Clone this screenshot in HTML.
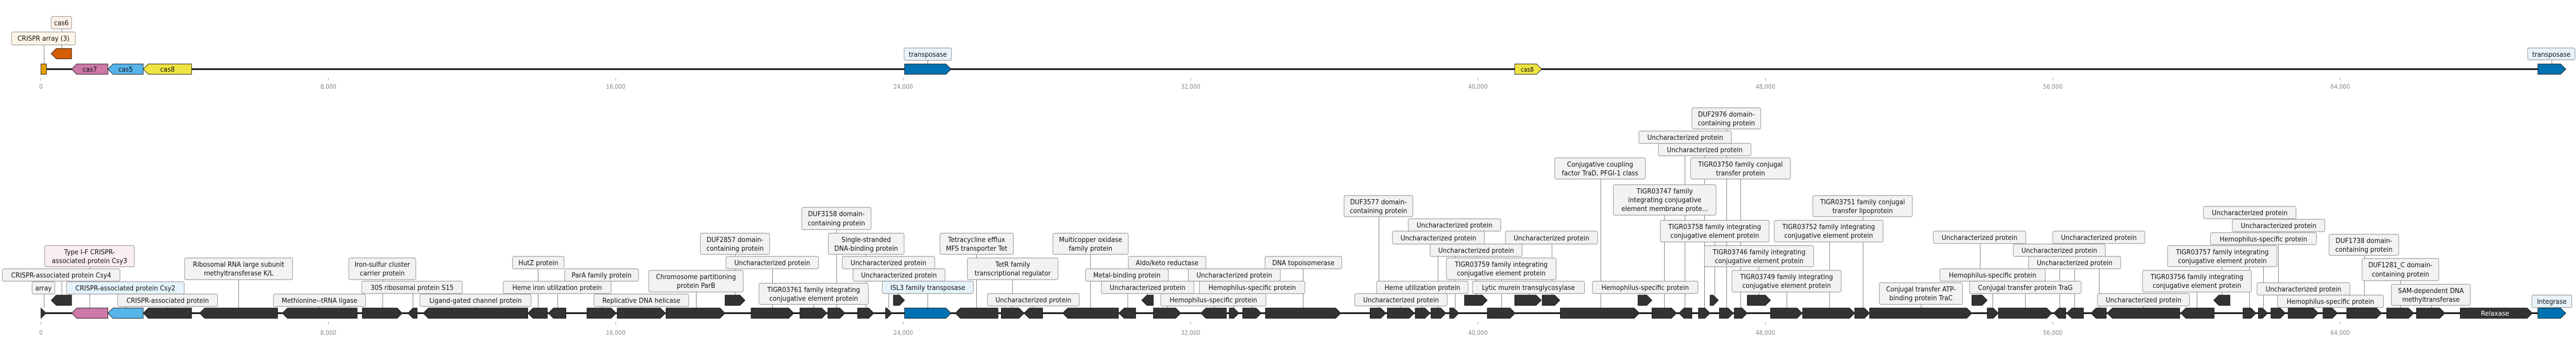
<!DOCTYPE html>
<html><head><meta charset="utf-8">
<meta name="viewport" content="width=5539">
<style>
html,body{margin:0;padding:0;background:#fff;width:100%;height:100%;overflow:hidden;}
svg{display:block;width:100vw;height:100vh;}
text{font-family:"DejaVu Sans","Liberation Sans",sans-serif;}
.bx{fill:#f2f2f2;stroke:#999;stroke-width:1.2;}
.bb{fill:#e6f3fb;stroke:#999;stroke-width:1.2;}
.bp{fill:#f8eef3;stroke:#999;stroke-width:1.2;}
.t{font-size:13.5px;fill:#111;text-anchor:middle;}
.ax{font-size:12px;fill:#888;text-anchor:middle;}
.g{fill:#333;stroke:#111;stroke-width:1;}
.ld{stroke:#444;stroke-width:0.8;}
.tk{stroke:#888;stroke-width:1;}
</style></head><body>
<svg viewBox="0 0 5539 659" preserveAspectRatio="none" xmlns="http://www.w3.org/2000/svg" overflow="hidden">
<rect width="5539" height="659" fill="#fff"/>

<line x1="88" y1="134" x2="5517" y2="134" stroke="#000" stroke-width="3"/>
<g class="tk">
<line x1="88" y1="151" x2="88" y2="156"/><line x1="706" y1="151" x2="706" y2="156"/><line x1="1324" y1="151" x2="1324" y2="156"/><line x1="1942" y1="151" x2="1942" y2="156"/><line x1="2560" y1="151" x2="2560" y2="156"/><line x1="3178" y1="151" x2="3178" y2="156"/><line x1="3796" y1="151" x2="3796" y2="156"/><line x1="4414" y1="151" x2="4414" y2="156"/><line x1="5032" y1="151" x2="5032" y2="156"/>
</g>
<g class="ax">
<text x="88" y="172">0</text><text x="706" y="172">8,000</text><text x="1324" y="172">16,000</text><text x="1942" y="172">24,000</text><text x="2560" y="172">32,000</text><text x="3178" y="172">40,000</text><text x="3796" y="172">48,000</text><text x="4414" y="172">56,000</text><text x="5032" y="172">64,000</text>
</g>
<line class="ld" x1="95" y1="87" x2="95" y2="124"/>
<line class="ld" x1="133" y1="56" x2="133" y2="94"/>
<line class="ld" x1="1995" y1="117" x2="1995" y2="124"/>
<line class="ld" x1="5487" y1="116" x2="5487" y2="124"/>
<rect x="88" y="124" width="12" height="20" fill="#e69f00" stroke="#111"/>
<polygon points="154,94 121,94 110,104 121,114 154,114" fill="#d55e00" stroke="#111"/>
<polygon points="232,124 165,124 154,134 165,144 232,144" fill="#cc79a7" stroke="#111"/>
<polygon points="308,124 243,124 232,134 243,144 308,144" fill="#56b4e9" stroke="#111"/>
<polygon points="412,124 319,124 308,134 319,144 412,144" fill="#f0e442" stroke="#111"/>
<polygon points="1945,124 2034,124 2045,134 2034,144 1945,144" fill="#0072b2" stroke="#111"/>
<polygon points="3257,124 3304,124 3315,134 3304,144 3257,144" fill="#f0e442" stroke="#111"/>
<polygon points="5457,124 5506,124 5517,134 5506,144 5457,144" fill="#0072b2" stroke="#111"/>
<text class="t" x="193" y="139">cas7</text>
<text class="t" x="270" y="139">cas5</text>
<text class="t" x="360" y="139">cas8</text>
<text class="t" x="3284" y="139" style="font-size:12px">cas8</text>
<rect x="25" y="62" width="137" height="25" rx="3" fill="#fdf6e8" stroke="#999" stroke-width="1.2"/>
<text class="t" x="93.5" y="79">CRISPR array (3)</text>
<rect x="110" y="32" width="44" height="24" rx="3" fill="#fdefe6" stroke="#999" stroke-width="1.2"/>
<text class="t" x="132" y="49">cas6</text>
<rect class="bb" x="1944" y="93" width="102" height="24" rx="3"/>
<text class="t" x="1995" y="110">transposase</text>
<rect class="bb" x="5435" y="93" width="102" height="23" rx="3"/>
<text class="t" x="5486" y="110">transposase</text>

<line x1="88" y1="607" x2="5517" y2="607" stroke="#000" stroke-width="3"/>
<g class="tk">
<line x1="88" y1="624" x2="88" y2="629"/><line x1="706" y1="624" x2="706" y2="629"/><line x1="1324" y1="624" x2="1324" y2="629"/><line x1="1942" y1="624" x2="1942" y2="629"/><line x1="2560" y1="624" x2="2560" y2="629"/><line x1="3178" y1="624" x2="3178" y2="629"/><line x1="3796" y1="624" x2="3796" y2="629"/><line x1="4414" y1="624" x2="4414" y2="629"/><line x1="5032" y1="624" x2="5032" y2="629"/>
</g>
<g class="ax">
<text x="88" y="649">0</text><text x="706" y="649">8,000</text><text x="1324" y="649">16,000</text><text x="1942" y="649">24,000</text><text x="2560" y="649">32,000</text><text x="3178" y="649">40,000</text><text x="3796" y="649">48,000</text><text x="4414" y="649">56,000</text><text x="5032" y="649">64,000</text>
</g>

<g class="ld">
<line x1="193" y1="517" x2="193" y2="597"/>
<line x1="133" y1="545" x2="133" y2="572"/>
<line x1="95" y1="570" x2="95" y2="597"/>
<line x1="270" y1="570" x2="270" y2="597"/>
<line x1="361" y1="594" x2="361" y2="597"/>
<line x1="513" y1="542" x2="513" y2="597"/>
<line x1="687" y1="593" x2="687" y2="597"/>
<line x1="823" y1="542" x2="823" y2="597"/>
<line x1="888" y1="569" x2="888" y2="597"/>
<line x1="1022" y1="593" x2="1022" y2="597"/>
<line x1="1157" y1="521" x2="1157" y2="597"/>
<line x1="1199" y1="569" x2="1199" y2="597"/>
<line x1="1295" y1="545" x2="1295" y2="597"/>
<line x1="1380" y1="593" x2="1380" y2="597"/>
<line x1="1497" y1="566" x2="1497" y2="597"/>
<line x1="1581" y1="493" x2="1581" y2="572"/>
<line x1="1661" y1="521" x2="1661" y2="597"/>
<line x1="1750" y1="590" x2="1750" y2="597"/>
<line x1="1799" y1="445" x2="1799" y2="597"/>
<line x1="1862" y1="493" x2="1862" y2="597"/>
<line x1="1911" y1="521" x2="1911" y2="597"/>
<line x1="1933" y1="545" x2="1933" y2="572"/>
<line x1="1995" y1="569" x2="1995" y2="597"/>
<line x1="2100" y1="493" x2="2100" y2="597"/>
<line x1="2177" y1="542" x2="2177" y2="597"/>
<line x1="2222" y1="593" x2="2222" y2="597"/>
<line x1="2345" y1="493" x2="2345" y2="597"/>
<line x1="2467" y1="545" x2="2467" y2="572"/>
<line x1="2425" y1="569" x2="2425" y2="597"/>
<line x1="2511" y1="593" x2="2511" y2="597"/>
<line x1="2611" y1="545" x2="2611" y2="597"/>
<line x1="2653" y1="521" x2="2653" y2="597"/>
<line x1="2692" y1="569" x2="2692" y2="597"/>
<line x1="2802" y1="521" x2="2802" y2="597"/>
<line x1="2965" y1="420" x2="2965" y2="597"/>
<line x1="3129" y1="448" x2="3129" y2="597"/>
<line x1="3175" y1="473" x2="3175" y2="572"/>
<line x1="3092" y1="497" x2="3092" y2="597"/>
<line x1="3012" y1="593" x2="3012" y2="597"/>
<line x1="3058" y1="569" x2="3058" y2="597"/>
<line x1="3229" y1="542" x2="3229" y2="597"/>
<line x1="3337" y1="473" x2="3337" y2="572"/>
<line x1="3288" y1="569" x2="3288" y2="572"/>
<line x1="3442" y1="347" x2="3442" y2="597"/>
<line x1="3537" y1="569" x2="3537" y2="572"/>
<line x1="3579" y1="417" x2="3579" y2="597"/>
<line x1="3713" y1="250" x2="3713" y2="597"/>
<line x1="3623" y1="278" x2="3623" y2="597"/>
<line x1="3665" y1="302" x2="3665" y2="597"/>
<line x1="3743" y1="347" x2="3743" y2="597"/>
<line x1="3687" y1="469" x2="3687" y2="572"/>
<line x1="3782" y1="517" x2="3782" y2="572"/>
<line x1="3842" y1="566" x2="3842" y2="597"/>
<line x1="4006" y1="420" x2="4006" y2="597"/>
<line x1="3934" y1="469" x2="3934" y2="597"/>
<line x1="4258" y1="472" x2="4258" y2="572"/>
<line x1="4514" y1="472" x2="4514" y2="597"/>
<line x1="4429" y1="497" x2="4429" y2="597"/>
<line x1="4461" y1="521" x2="4461" y2="597"/>
<line x1="4285" y1="545" x2="4285" y2="597"/>
<line x1="4131" y1="590" x2="4131" y2="597"/>
<line x1="4355" y1="569" x2="4355" y2="597"/>
<line x1="4609" y1="593" x2="4609" y2="597"/>
<line x1="4724" y1="566" x2="4724" y2="597"/>
<line x1="4778" y1="517" x2="4778" y2="572"/>
<line x1="4837" y1="474" x2="4837" y2="597"/>
<line x1="4867" y1="449" x2="4867" y2="597"/>
<line x1="4899" y1="424" x2="4899" y2="597"/>
<line x1="5084" y1="495" x2="5084" y2="597"/>
<line x1="5162" y1="544" x2="5162" y2="597"/>
<line x1="4953" y1="572" x2="4953" y2="597"/>
<line x1="5012" y1="596" x2="5012" y2="597"/>
<line x1="5228" y1="592" x2="5228" y2="597"/>
<line x1="5487" y1="596" x2="5487" y2="597"/>
</g>

<g class="g">
<polygon points="88,597 88,597 99,607 88,617"/>
<polygon points="154,572 121,572 110,582 121,592 154,592"/>
<polygon points="232,597 165,597 154,607 165,617 232,617" style="fill:#cc79a7"/>
<polygon points="308,597 243,597 232,607 243,617 308,617" style="fill:#56b4e9"/>
<polygon points="412,597 319,597 308,607 319,617 412,617"/>
<polygon points="597,597 440,597 429,607 440,617 597,617"/>
<polygon points="768,597 618,597 607,607 618,617 768,617"/>
<polygon points="779,597 854,597 865,607 854,617 779,617"/>
<polygon points="897,597 888,597 877,607 888,617 897,617"/>
<polygon points="1135,597 921,597 910,607 921,617 1135,617"/>
<polygon points="1177,597 1146,597 1135,607 1146,617 1177,617"/>
<polygon points="1217,597 1190,597 1179,607 1190,617 1217,617"/>
<polygon points="1262,597 1314,597 1325,607 1314,617 1262,617"/>
<polygon points="1327,597 1420,597 1431,607 1420,617 1327,617"/>
<polygon points="1432,597 1548,597 1559,607 1548,617 1432,617"/>
<polygon points="1559,572 1591,572 1602,582 1591,592 1559,592"/>
<polygon points="1615,597 1696,597 1707,607 1696,617 1615,617"/>
<polygon points="1720,597 1767,597 1778,607 1767,617 1720,617"/>
<polygon points="1780,597 1806,597 1817,607 1806,617 1780,617"/>
<polygon points="1844,597 1868,597 1879,607 1868,617 1844,617"/>
<polygon points="1904,597 1907,597 1918,607 1907,617 1904,617"/>
<polygon points="1921,572 1934,572 1945,582 1934,592 1921,592"/>
<polygon points="1945,597 2034,597 2045,607 2034,617 1945,617" style="fill:#0072b2"/>
<polygon points="2146,597 2065,597 2054,607 2065,617 2146,617"/>
<polygon points="2153,597 2191,597 2202,607 2191,617 2153,617"/>
<polygon points="2242,597 2213,597 2202,607 2213,617 2242,617"/>
<polygon points="2405,597 2296,597 2285,607 2296,617 2405,617"/>
<polygon points="2442,597 2417,597 2406,607 2417,617 2442,617"/>
<polygon points="2480,572 2466,572 2455,582 2466,592 2480,592"/>
<polygon points="2480,597 2528,597 2539,607 2528,617 2480,617"/>
<polygon points="2637,597 2593,597 2582,607 2593,617 2637,617"/>
<polygon points="2643,597 2653,597 2664,607 2653,617 2643,617"/>
<polygon points="2672,597 2701,597 2712,607 2701,617 2672,617"/>
<polygon points="2721,597 2872,597 2883,607 2872,617 2721,617"/>
<polygon points="2946,597 2969,597 2980,607 2969,617 2946,617"/>
<polygon points="2983,597 3030,597 3041,607 3030,617 2983,617"/>
<polygon points="3043,597 3064,597 3075,607 3064,617 3043,617"/>
<polygon points="3077,597 3098,597 3109,607 3098,617 3077,617"/>
<polygon points="3117,597 3126,597 3137,607 3126,617 3117,617"/>
<polygon points="3149,572 3187,572 3198,582 3187,592 3149,592"/>
<polygon points="3198,597 3247,597 3258,607 3247,617 3198,617"/>
<polygon points="3257,572 3303,572 3314,582 3303,592 3257,592"/>
<polygon points="3316,572 3343,572 3354,582 3343,592 3316,592"/>
<polygon points="3355,597 3514,597 3525,607 3514,617 3355,617"/>
<polygon points="3522,572 3541,572 3552,582 3541,592 3522,592"/>
<polygon points="3552,597 3594,597 3605,607 3594,617 3552,617"/>
<polygon points="3638,597 3621,597 3610,607 3621,617 3638,617"/>
<polygon points="3652,597 3666,597 3677,607 3666,617 3652,617"/>
<polygon points="3677,572 3684,572 3695,582 3684,592 3677,592"/>
<polygon points="3697,597 3716,597 3727,607 3716,617 3697,617"/>
<polygon points="3729,597 3746,597 3757,607 3746,617 3729,617"/>
<polygon points="3757,572 3796,572 3807,582 3796,592 3757,592"/>
<polygon points="3807,597 3864,597 3875,607 3864,617 3807,617"/>
<polygon points="3876,597 3977,597 3988,607 3977,617 3876,617"/>
<polygon points="3988,597 4009,597 4020,607 4009,617 3988,617"/>
<polygon points="4020,597 4229,597 4240,607 4229,617 4020,617"/>
<polygon points="4240,572 4262,572 4273,582 4262,592 4240,592"/>
<polygon points="4273,597 4286,597 4297,607 4286,617 4273,617"/>
<polygon points="4297,597 4401,597 4412,607 4401,617 4297,617"/>
<polygon points="4442,597 4427,597 4416,607 4427,617 4442,617"/>
<polygon points="4480,597 4455,597 4444,607 4455,617 4480,617"/>
<polygon points="4529,597 4507,597 4496,607 4507,617 4529,617"/>
<polygon points="4687,597 4542,597 4531,607 4542,617 4687,617"/>
<polygon points="4761,597 4700,597 4689,607 4700,617 4761,617"/>
<polygon points="4795,572 4771,572 4760,582 4771,592 4795,592"/>
<polygon points="4823,597 4840,597 4851,607 4840,617 4823,617"/>
<polygon points="4856,597 4865,597 4876,607 4865,617 4856,617"/>
<polygon points="4883,597 4903,597 4914,607 4903,617 4883,617"/>
<polygon points="4920,597 4974,597 4985,607 4974,617 4920,617"/>
<polygon points="4995,597 5015,597 5026,607 5015,617 4995,617"/>
<polygon points="5046,597 5110,597 5121,607 5110,617 5046,617"/>
<polygon points="5132,597 5179,597 5190,607 5179,617 5132,617"/>
<polygon points="5196,597 5246,597 5257,607 5246,617 5196,617"/>
<polygon points="5290,597 5434,597 5445,607 5434,617 5290,617"/>
<polygon points="5457,597 5506,597 5517,607 5506,617 5457,617" style="fill:#0072b2"/>
</g>
<text class="t" x="5365" y="612" style="fill:#fff">Relaxase</text>

<rect class="bp" x="96" y="476" width="193" height="41" rx="3"/><text class="t" x="192.5" y="493">Type I-F CRISPR-</text><text class="t" x="192.5" y="510">associated protein Csy3</text>
<rect class="bx" x="5" y="521" width="253" height="24" rx="3"/><text class="t" x="131.5" y="538">CRISPR-associated protein Csy4</text>
<rect class="bx" x="69" y="546" width="49" height="24" rx="3"/><text class="t" x="93.5" y="563">array</text>
<rect class="bb" x="143" y="546" width="253" height="24" rx="3"/><text class="t" x="269.5" y="563">CRISPR-associated protein Csy2</text>
<rect class="bx" x="253" y="570" width="215" height="24" rx="3"/><text class="t" x="360.5" y="587">CRISPR-associated protein</text>
<rect class="bx" x="397" y="500" width="232" height="42" rx="3"/><text class="t" x="513" y="517">Ribosomal RNA large subunit</text><text class="t" x="513" y="534">methyltransferase K/L</text>
<rect class="bx" x="588" y="570" width="198" height="24" rx="3"/><text class="t" x="687" y="587">Methionine--tRNA ligase</text>
<rect class="bx" x="750" y="500" width="144" height="42" rx="3"/><text class="t" x="822" y="517">Iron-sulfur cluster</text><text class="t" x="822" y="534">carrier protein</text>
<rect class="bx" x="778" y="545" width="216" height="24" rx="3"/><text class="t" x="886" y="562">30S ribosomal protein S15</text>
<rect class="bx" x="903" y="570" width="239" height="24" rx="3"/><text class="t" x="1022.5" y="587">Ligand-gated channel protein</text>
<rect class="bx" x="1102" y="497" width="111" height="24" rx="3"/><text class="t" x="1157.5" y="514">HutZ protein</text>
<rect class="bx" x="1082" y="545" width="232" height="24" rx="3"/><text class="t" x="1198" y="562">Heme iron utilization protein</text>
<rect class="bx" x="1214" y="521" width="159" height="24" rx="3"/><text class="t" x="1293.5" y="538">ParA family protein</text>
<rect class="bx" x="1277" y="570" width="204" height="24" rx="3"/><text class="t" x="1379" y="587">Replicative DNA helicase</text>
<rect class="bx" x="1395" y="524" width="203" height="42" rx="3"/><text class="t" x="1496.5" y="541">Chromosome partitioning</text><text class="t" x="1496.5" y="558">protein ParB</text>
<rect class="bx" x="1506" y="452" width="149" height="41" rx="3"/><text class="t" x="1580.5" y="469">DUF2857 domain-</text><text class="t" x="1580.5" y="486">containing protein</text>
<rect class="bx" x="1561" y="497" width="199" height="24" rx="3"/><text class="t" x="1660.5" y="514">Uncharacterized protein</text>
<rect class="bx" x="1632" y="549" width="235" height="41" rx="3"/><text class="t" x="1749.5" y="566">TIGR03761 family integrating</text><text class="t" x="1749.5" y="583">conjugative element protein</text>
<rect class="bx" x="1724" y="402" width="149" height="43" rx="3"/><text class="t" x="1798.5" y="419">DUF3158 domain-</text><text class="t" x="1798.5" y="437">containing protein</text>
<rect class="bx" x="1781" y="452" width="163" height="41" rx="3"/><text class="t" x="1862.5" y="469">Single-stranded</text><text class="t" x="1862.5" y="486">DNA-binding protein</text>
<rect class="bx" x="1811" y="497" width="199" height="24" rx="3"/><text class="t" x="1910.5" y="514">Uncharacterized protein</text>
<rect class="bx" x="1834" y="521" width="198" height="24" rx="3"/><text class="t" x="1933" y="538">Uncharacterized protein</text>
<rect class="bb" x="1897" y="545" width="196" height="24" rx="3"/><text class="t" x="1995" y="562">ISL3 family transposase</text>
<rect class="bx" x="2021" y="452" width="158" height="41" rx="3"/><text class="t" x="2100" y="469">Tetracycline efflux</text><text class="t" x="2100" y="486">MFS transporter Tet</text>
<rect class="bx" x="2080" y="500" width="195" height="42" rx="3"/><text class="t" x="2177.5" y="517">TetR family</text><text class="t" x="2177.5" y="534">transcriptional regulator</text>
<rect class="bx" x="2123" y="569" width="198" height="24" rx="3"/><text class="t" x="2222" y="586">Uncharacterized protein</text>
<rect class="bx" x="2264" y="452" width="162" height="41" rx="3"/><text class="t" x="2345" y="469">Multicopper oxidase</text><text class="t" x="2345" y="486">family protein</text>
<rect class="bx" x="2334" y="521" width="178" height="24" rx="3"/><text class="t" x="2423" y="538">Metal-binding protein</text>
<rect class="bx" x="2426" y="497" width="167" height="24" rx="3"/><text class="t" x="2509.5" y="514">Aldo/keto reductase</text>
<rect class="bx" x="2368" y="545" width="199" height="24" rx="3"/><text class="t" x="2467.5" y="562">Uncharacterized protein</text>
<rect class="bx" x="2496" y="569" width="226" height="24" rx="3"/><text class="t" x="2609" y="586">Hemophilus-specific protein</text>
<rect class="bx" x="2555" y="521" width="198" height="24" rx="3"/><text class="t" x="2654" y="538">Uncharacterized protein</text>
<rect class="bx" x="2579" y="545" width="227" height="24" rx="3"/><text class="t" x="2692.5" y="562">Hemophilus-specific protein</text>
<rect class="bx" x="2720" y="497" width="165" height="24" rx="3"/><text class="t" x="2802.5" y="514">DNA topoisomerase</text>
<rect class="bx" x="2890" y="379" width="148" height="41" rx="3"/><text class="t" x="2964" y="396">DUF3577 domain-</text><text class="t" x="2964" y="413">containing protein</text>
<rect class="bx" x="3028" y="424" width="199" height="24" rx="3"/><text class="t" x="3127.5" y="441">Uncharacterized protein</text>
<rect class="bx" x="2994" y="448" width="198" height="25" rx="3"/><text class="t" x="3093" y="466">Uncharacterized protein</text>
<rect class="bx" x="3075" y="473" width="198" height="24" rx="3"/><text class="t" x="3174" y="490">Uncharacterized protein</text>
<rect class="bx" x="2913" y="569" width="199" height="24" rx="3"/><text class="t" x="3012.5" y="586">Uncharacterized protein</text>
<rect class="bx" x="2960" y="545" width="197" height="24" rx="3"/><text class="t" x="3058.5" y="562">Heme utilization protein</text>
<rect class="bx" x="3110" y="500" width="236" height="42" rx="3"/><text class="t" x="3228" y="517">TIGR03759 family integrating</text><text class="t" x="3228" y="534">conjugative element protein</text>
<rect class="bx" x="3237" y="448" width="198" height="25" rx="3"/><text class="t" x="3336" y="466">Uncharacterized protein</text>
<rect class="bx" x="3166" y="545" width="241" height="24" rx="3"/><text class="t" x="3286.5" y="562">Lytic murein transglycosylase</text>
<rect class="bx" x="3343" y="306" width="195" height="41" rx="3"/><text class="t" x="3440.5" y="323">Conjugative coupling</text><text class="t" x="3440.5" y="340">factor TraD, PFGI-1 class</text>
<rect class="bx" x="3424" y="545" width="227" height="24" rx="3"/><text class="t" x="3537.5" y="562">Hemophilus-specific protein</text>
<rect class="bx" x="3469" y="358" width="221" height="59" rx="3"/><text class="t" x="3579.5" y="375">TIGR03747 family</text><text class="t" x="3579.5" y="392">integrating conjugative</text><text class="t" x="3579.5" y="409">element membrane prote...</text>
<rect class="bx" x="3638" y="209" width="148" height="41" rx="3"/><text class="t" x="3712" y="226">DUF2976 domain-</text><text class="t" x="3712" y="243">containing protein</text>
<rect class="bx" x="3524" y="254" width="199" height="24" rx="3"/><text class="t" x="3623.5" y="271">Uncharacterized protein</text>
<rect class="bx" x="3566" y="278" width="199" height="24" rx="3"/><text class="t" x="3665.5" y="295">Uncharacterized protein</text>
<rect class="bx" x="3635" y="306" width="215" height="41" rx="3"/><text class="t" x="3742.5" y="323">TIGR03750 family conjugal</text><text class="t" x="3742.5" y="340">transfer protein</text>
<rect class="bx" x="3570" y="427" width="234" height="42" rx="3"/><text class="t" x="3687" y="444">TIGR03758 family integrating</text><text class="t" x="3687" y="461">conjugative element protein</text>
<rect class="bx" x="3665" y="476" width="235" height="41" rx="3"/><text class="t" x="3782.5" y="493">TIGR03746 family integrating</text><text class="t" x="3782.5" y="510">conjugative element protein</text>
<rect class="bx" x="3724" y="524" width="235" height="42" rx="3"/><text class="t" x="3841.5" y="541">TIGR03749 family integrating</text><text class="t" x="3841.5" y="558">conjugative element protein</text>
<rect class="bx" x="3898" y="379" width="214" height="41" rx="3"/><text class="t" x="4005" y="396">TIGR03751 family conjugal</text><text class="t" x="4005" y="413">transfer lipoprotein</text>
<rect class="bx" x="3815" y="427" width="234" height="42" rx="3"/><text class="t" x="3932" y="444">TIGR03752 family integrating</text><text class="t" x="3932" y="461">conjugative element protein</text>
<rect class="bx" x="4157" y="448" width="199" height="24" rx="3"/><text class="t" x="4256.5" y="465">Uncharacterized protein</text>
<rect class="bx" x="4414" y="448" width="198" height="24" rx="3"/><text class="t" x="4513" y="465">Uncharacterized protein</text>
<rect class="bx" x="4329" y="473" width="198" height="24" rx="3"/><text class="t" x="4428" y="490">Uncharacterized protein</text>
<rect class="bx" x="4362" y="497" width="198" height="24" rx="3"/><text class="t" x="4461" y="514">Uncharacterized protein</text>
<rect class="bx" x="4171" y="521" width="227" height="24" rx="3"/><text class="t" x="4284.5" y="538">Hemophilus-specific protein</text>
<rect class="bx" x="4041" y="548" width="179" height="42" rx="3"/><text class="t" x="4130.5" y="565">Conjugal transfer ATP-</text><text class="t" x="4130.5" y="582">binding protein TraC</text>
<rect class="bx" x="4235" y="545" width="240" height="24" rx="3"/><text class="t" x="4355" y="562">Conjugal transfer protein TraG</text>
<rect class="bx" x="4510" y="569" width="198" height="24" rx="3"/><text class="t" x="4609" y="586">Uncharacterized protein</text>
<rect class="bx" x="4607" y="524" width="234" height="42" rx="3"/><text class="t" x="4724" y="541">TIGR03756 family integrating</text><text class="t" x="4724" y="558">conjugative element protein</text>
<rect class="bx" x="4661" y="476" width="235" height="41" rx="3"/><text class="t" x="4778.5" y="493">TIGR03757 family integrating</text><text class="t" x="4778.5" y="510">conjugative element protein</text>
<rect class="bx" x="4753" y="451" width="228" height="23" rx="3"/><text class="t" x="4867" y="468">Hemophilus-specific protein</text>
<rect class="bx" x="4800" y="425" width="199" height="24" rx="3"/><text class="t" x="4899.5" y="442">Uncharacterized protein</text>
<rect class="bx" x="4738" y="400" width="199" height="24" rx="3"/><text class="t" x="4837.5" y="417">Uncharacterized protein</text>
<rect class="bx" x="5008" y="454" width="150" height="41" rx="3"/><text class="t" x="5083" y="471">DUF1738 domain-</text><text class="t" x="5083" y="488">containing protein</text>
<rect class="bx" x="5079" y="501" width="165" height="43" rx="3"/><text class="t" x="5161.5" y="518">DUF1281_C domain-</text><text class="t" x="5161.5" y="536">containing protein</text>
<rect class="bx" x="4853" y="548" width="200" height="24" rx="3"/><text class="t" x="4953" y="565">Uncharacterized protein</text>
<rect class="bx" x="4897" y="572" width="228" height="24" rx="3"/><text class="t" x="5011" y="589">Hemophilus-specific protein</text>
<rect class="bx" x="5142" y="551" width="170" height="41" rx="3"/><text class="t" x="5227" y="568">SAM-dependent DNA</text><text class="t" x="5227" y="585">methyltransferase</text>
<rect class="bb" x="5444" y="572" width="86" height="24" rx="3"/><text class="t" x="5487" y="589">Integrase</text>
</svg>
</body></html>
